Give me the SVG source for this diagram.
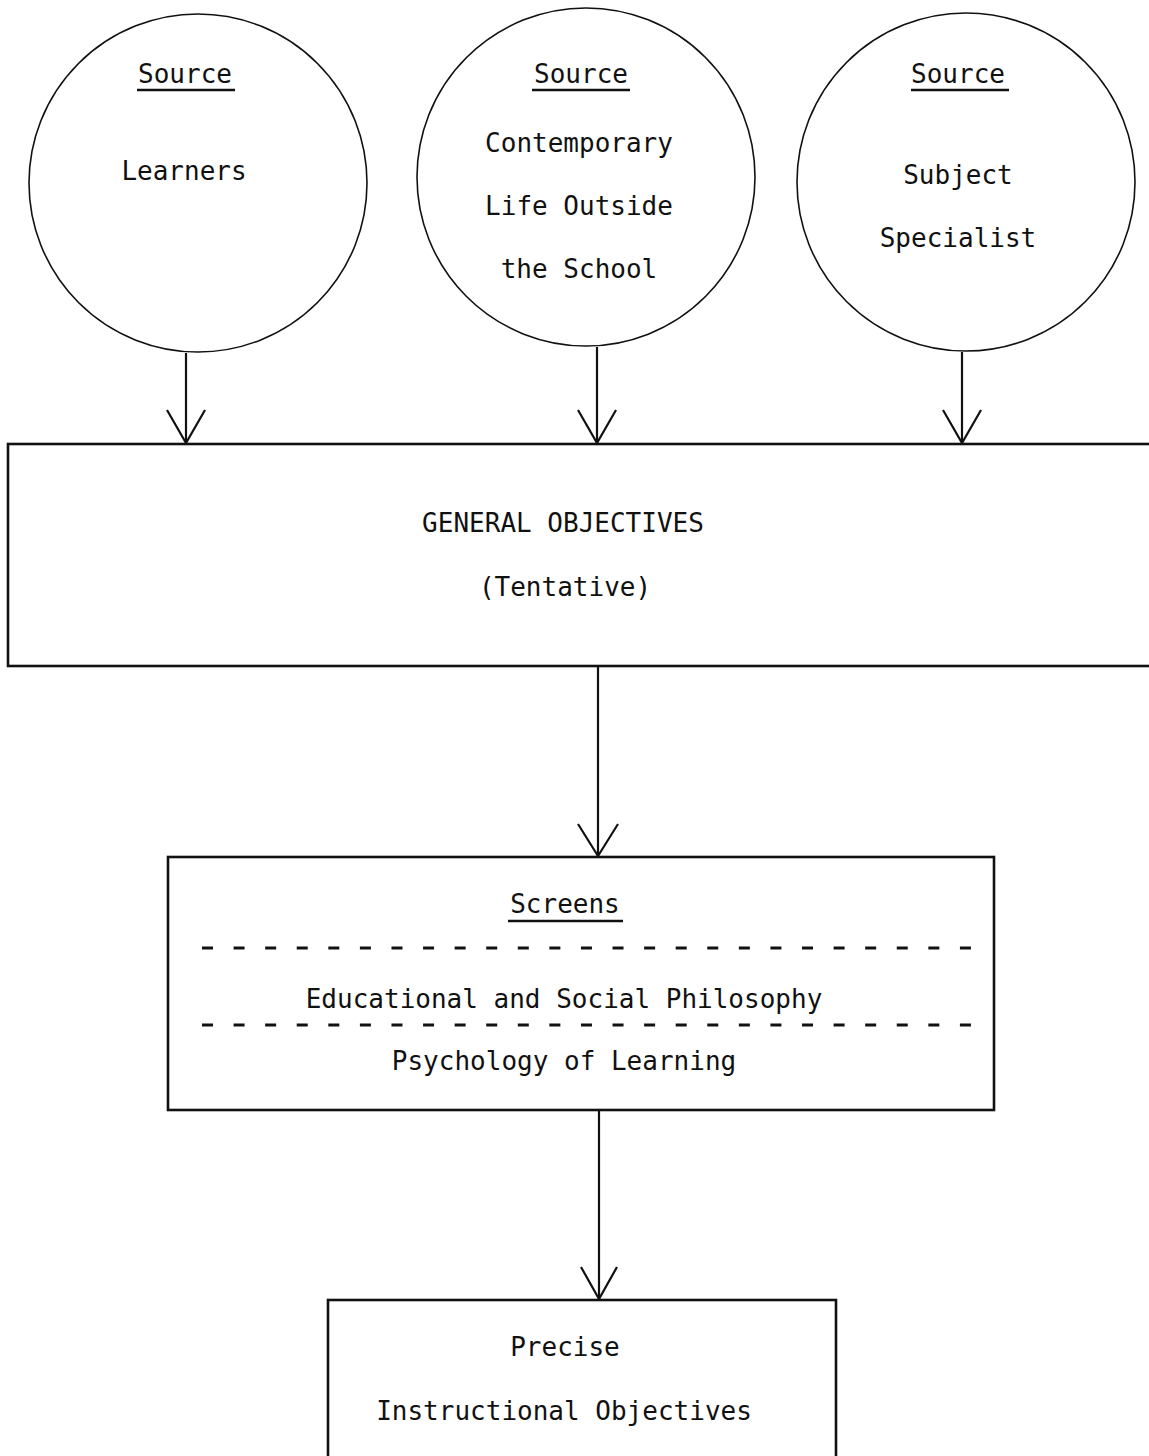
<svg xmlns="http://www.w3.org/2000/svg" width="1149" height="1456" viewBox="0 0 1149 1456">
<style>
text{font-family:"DejaVu Sans Mono","Liberation Mono",monospace;font-size:26px;fill:#111;text-anchor:middle}
.c{fill:none;stroke:#111;stroke-width:1.6}
.b{fill:none;stroke:#111;stroke-width:2.6}
.u{stroke:#111;stroke-width:2.4}
.d{stroke:#111;stroke-width:3;stroke-dasharray:11 20.58}
.a{fill:none;stroke:#111;stroke-width:2.2;stroke-linejoin:miter}
</style>
<rect width="1149" height="1456" fill="#fff"/>
<g id="src-learners">
<circle class="c" cx="198" cy="183" r="169"/>
<text x="185" y="83">Source</text>
<line class="u" x1="137" y1="90" x2="235" y2="90"/>
<text x="184" y="180">Learners</text>
</g>
<g id="src-contemporary">
<circle class="c" cx="586" cy="177" r="169"/>
<text x="581" y="83">Source</text>
<line class="u" x1="532" y1="90" x2="630" y2="90"/>
<text x="579" y="152">Contemporary</text>
<text x="579" y="215">Life Outside</text>
<text x="579" y="278">the School</text>
</g>
<g id="src-subject">
<circle class="c" cx="966" cy="182" r="169"/>
<text x="958" y="83">Source</text>
<line class="u" x1="911" y1="90" x2="1009" y2="90"/>
<text x="958" y="184">Subject</text>
<text x="958" y="247">Specialist</text>
</g>
<g id="general-objectives">
<rect class="b" x="8" y="444" width="1160" height="222"/>
<text x="563" y="532">GENERAL OBJECTIVES</text>
<text x="565" y="596">(Tentative)</text>
</g>
<g id="screens">
<rect class="b" x="168" y="857" width="826" height="253"/>
<text x="565" y="913">Screens</text>
<line class="u" x1="508" y1="921" x2="623" y2="921"/>
<line class="d" x1="202" y1="948" x2="971" y2="948"/>
<text x="564" y="1008">Educational and Social Philosophy</text>
<line class="d" x1="202" y1="1025" x2="971" y2="1025"/>
<text x="564" y="1070">Psychology of Learning</text>
</g>
<g id="precise-objectives">
<rect class="b" x="328" y="1300" width="508" height="170"/>
<text x="565" y="1356">Precise</text>
<text x="564" y="1420">Instructional Objectives</text>
</g>
<g id="connectors">
<line class="a" x1="186" y1="353" x2="186" y2="443"/>
<polyline class="a" points="167,410 186,443 205,410"/>
<line class="a" x1="597" y1="347" x2="597" y2="443"/>
<polyline class="a" points="578,410 597,443 616,410"/>
<line class="a" x1="962" y1="352" x2="962" y2="443"/>
<polyline class="a" points="943,410 962,443 981,410"/>
<line class="a" x1="598" y1="666" x2="598" y2="856"/>
<polyline class="a" points="578,824 598,856 618,824"/>
<line class="a" x1="599" y1="1110" x2="599" y2="1299"/>
<polyline class="a" points="581,1267 599,1299 617,1267"/>
</g>
</svg>
